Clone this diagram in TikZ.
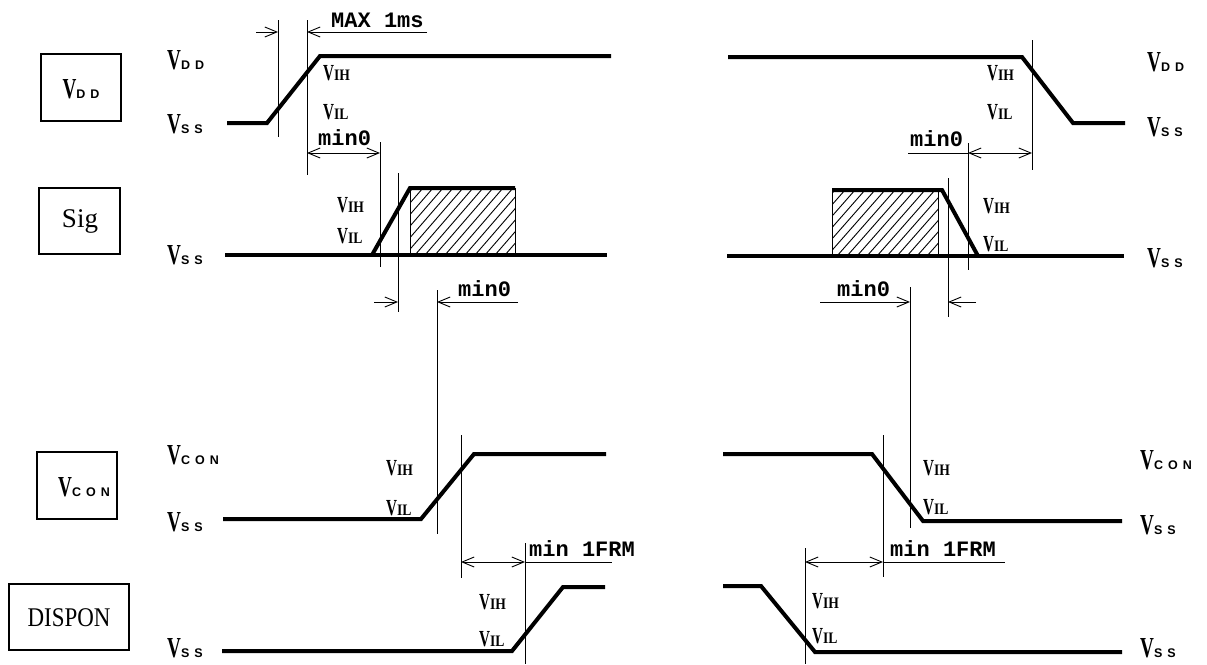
\documentclass[tikz,border=0pt]{standalone}
\usepackage{fontspec}
\setmainfont{Liberation Serif}
\newfontfamily\condserif[FakeStretch=0.66]{Liberation Serif}
\newfontfamily\midserif[FakeStretch=0.85]{Liberation Serif}
\newfontfamily\subsans[LetterSpace=40]{Liberation Sans}
\newfontfamily\monob{Liberation Mono}
\usetikzlibrary{arrows.meta}
\newcommand{\sigV}[1]{{\condserif\bfseries\fontsize{29}{29}\selectfont V}{\subsans\bfseries\fontsize{12.5}{12.5}\selectfont #1}}
\newcommand{\sigI}[1]{{\condserif\bfseries\fontsize{23}{23}\selectfont V}{\midserif\bfseries\fontsize{16}{16}\selectfont #1}}
\newcommand{\dimtxt}[1]{{\monob\bfseries\fontsize{22}{22}\selectfont #1}}
\tikzset{
  wave/.style={line width=4pt, line join=miter},
  thin/.style={line width=0.9pt},
  sigbox/.style={draw, line width=1.8pt, inner sep=0pt},
  lab/.style={inner sep=0pt, anchor=west},
  dimlab/.style={inner sep=0pt, anchor=base west},
  tip/.style={thin, -{Straight Barb[length=12pt,width=10pt]}},
  dtip/.style={thin, {Straight Barb[length=12pt,width=10pt]}-{Straight Barb[length=12pt,width=10pt]}},
}
\begin{document}
\begin{tikzpicture}[x=1pt,y=-1pt]
\useasboundingbox[fill=white] (0,0) rectangle (1207,664);

% ---------- boxes ----------
\draw[sigbox] (41,54) rectangle (121,121);
\node[inner sep=0] (bVDD) at (81,89) {\sigV{DD}};
\draw[sigbox] (39,188) rectangle (120,254);
\node[inner sep=0] (bSig) at (80,221) {\fontsize{27}{27}\selectfont Sig};
\draw[sigbox] (37,452) rectangle (117,519);
\node[inner sep=0] (bVCON) at (84,487) {\sigV{CON}};
\draw[sigbox] (9,584) rectangle (129,650);
\node[inner sep=0] (bDISP) at (69,618) {\midserif\fontsize{27}{27}\selectfont DISPON};

% ---------- left labels ----------
\node[lab] (lVDD) at (167,60) {\sigV{DD}};
\node[lab] (lVSS1) at (167,124) {\sigV{SS}};
\node[lab] (lVSS2) at (167,255) {\sigV{SS}};
\node[lab] (lVCON) at (167,455) {\sigV{CON}};
\node[lab] (lVSS3) at (167,522) {\sigV{SS}};
\node[lab] (lVSS4) at (167,648) {\sigV{SS}};

% ---------- right labels ----------
\node[lab] (rVDD) at (1147,62) {\sigV{DD}};
\node[lab] (rVSS1) at (1147,127) {\sigV{SS}};
\node[lab] (rVSS2) at (1147,258) {\sigV{SS}};
\node[lab] (rVCON) at (1140,460) {\sigV{CON}};
\node[lab] (rVSS3) at (1140,525) {\sigV{SS}};
\node[lab] (rVSS4) at (1140,648) {\sigV{SS}};

% ================= LEFT (power on) =================
% VDD
\draw[wave] (227,123) -- (267,123) -- (320,56) -- (611,56);
\node[lab] (a1) at (323,73) {\sigI{IH}};
\node[lab] (a2) at (323,112) {\sigI{IL}};
\coordinate (v278t) at (278,20); \coordinate (v278b) at (278,137);
\coordinate (v307t) at (307,20); \coordinate (v307b) at (307,175);
\draw[thin] (v278t) -- (v278b);
\draw[thin] (v307t) -- (v307b);
\coordinate (m1a) at (256,32); \coordinate (m1b) at (278,32);
\coordinate (m1c) at (427,32); \coordinate (m1d) at (307,32);
\draw[tip] (m1a) -- (m1b);
\draw[tip] (m1c) -- (m1d);
\node[dimlab] (tMAX) at (331,27) {\dimtxt{MAX 1ms}};
% min0 (VDD -> Sig)
\coordinate (m2a) at (307,153); \coordinate (m2b) at (380,153);
\draw[dtip] (m2a) -- (m2b);
\node[dimlab] (tmin1) at (318,145) {\dimtxt{min0}};
\draw[thin] (380,142) -- (380,267);

% Sig
\begin{scope}
\clip (410,188) rectangle (515,255);
\foreach \i in {0,...,18} \draw[thin] (335+10*\i,255) -- ++(58,-67);
\end{scope}
\draw[thin] (410,188) rectangle (515,255);
\draw[wave] (225,255) -- (607,255);
\draw[wave] (372,255) -- (410,188) -- (515,188);
\draw[thin] (398,173) -- (398,312);
\node[lab] (a3) at (337,205) {\sigI{IH}};
\node[lab] (a4) at (337,236) {\sigI{IL}};
% min0 (Sig -> VCON)
\coordinate (m3a) at (374,302); \coordinate (m3b) at (398,302);
\coordinate (m3c) at (518,302); \coordinate (m3d) at (437,302);
\draw[tip] (m3a) -- (m3b);
\draw[tip] (m3c) -- (m3d);
\node[dimlab] (tmin2) at (458,296) {\dimtxt{min0}};
\draw[thin] (437,290) -- (437,534);

% VCON
\draw[wave] (223,519) -- (421,519) -- (474,454) -- (606,454);
\draw[thin] (461,435) -- (461,578);
\node[lab] (a5) at (386,468) {\sigI{IH}};
\node[lab] (a6) at (386,508) {\sigI{IL}};
% min 1FRM
\coordinate (m4a) at (461,562); \coordinate (m4b) at (525,562);
\draw[dtip] (m4a) -- (m4b);
\draw[thin] (m4b) -- (612,562);
\node[dimlab] (tfrm1) at (529,556) {\dimtxt{min 1FRM}};
\draw[thin] (525,543) -- (525,664);

% DISPON
\draw[wave] (222,651) -- (512,651) -- (563,587) -- (605,587);
\node[lab] (a7) at (479,602) {\sigI{IH}};
\node[lab] (a8) at (479,639) {\sigI{IL}};

% ================= RIGHT (power off) =================
% VDD
\draw[wave] (728,57) -- (1022,57) -- (1073,123) -- (1125,123);
\draw[thin] (1032,40) -- (1032,170);
\node[lab] (b1) at (987,73) {\sigI{IH}};
\node[lab] (b2) at (987,112) {\sigI{IL}};
% min0
\coordinate (n1a) at (968,153); \coordinate (n1b) at (1032,153);
\draw[thin] (908,153) -- (n1a);
\draw[dtip] (n1a) -- (n1b);
\node[dimlab] (tmin3) at (910,146) {\dimtxt{min0}};
\draw[thin] (968,143) -- (968,270);

% Sig
\begin{scope}
\clip (832,190) rectangle (938,256);
\foreach \i in {0,...,18} \draw[thin] (757+10*\i,256) -- ++(58,-66);
\end{scope}
\draw[thin] (832,190) rectangle (938,256);
\draw[wave] (727,256) -- (1124,256);
\draw[wave] (832,190) -- (942,190) -- (978,256);
\draw[thin] (948,178) -- (948,317);
\node[lab] (b3) at (983,206) {\sigI{IH}};
\node[lab] (b4) at (983,244) {\sigI{IL}};
% min0
\coordinate (n2a) at (820,302); \coordinate (n2b) at (910,302);
\coordinate (n2c) at (976,302); \coordinate (n2d) at (948,302);
\draw[tip] (n2a) -- (n2b);
\draw[tip] (n2c) -- (n2d);
\node[dimlab] (tmin4) at (837,296) {\dimtxt{min0}};
\draw[thin] (910,287) -- (910,528);

% VCON
\draw[wave] (723,454) -- (872,454) -- (923,521) -- (1122,521);
\draw[thin] (883,435) -- (883,577);
\node[lab] (b5) at (923,468) {\sigI{IH}};
\node[lab] (b6) at (923,507) {\sigI{IL}};
% min 1FRM
\coordinate (n3a) at (805,562); \coordinate (n3b) at (883,562);
\draw[dtip] (n3a) -- (n3b);
\draw[thin] (n3b) -- (1005,562);
\node[dimlab] (tfrm2) at (890,556) {\dimtxt{min 1FRM}};
\draw[thin] (805,548) -- (805,664);

% DISPON
\draw[wave] (723,586) -- (761,586) -- (815,652) -- (1122,652);
\node[lab] (b7) at (812,601) {\sigI{IH}};
\node[lab] (b8) at (812,636) {\sigI{IL}};
\end{tikzpicture}
\end{document}
